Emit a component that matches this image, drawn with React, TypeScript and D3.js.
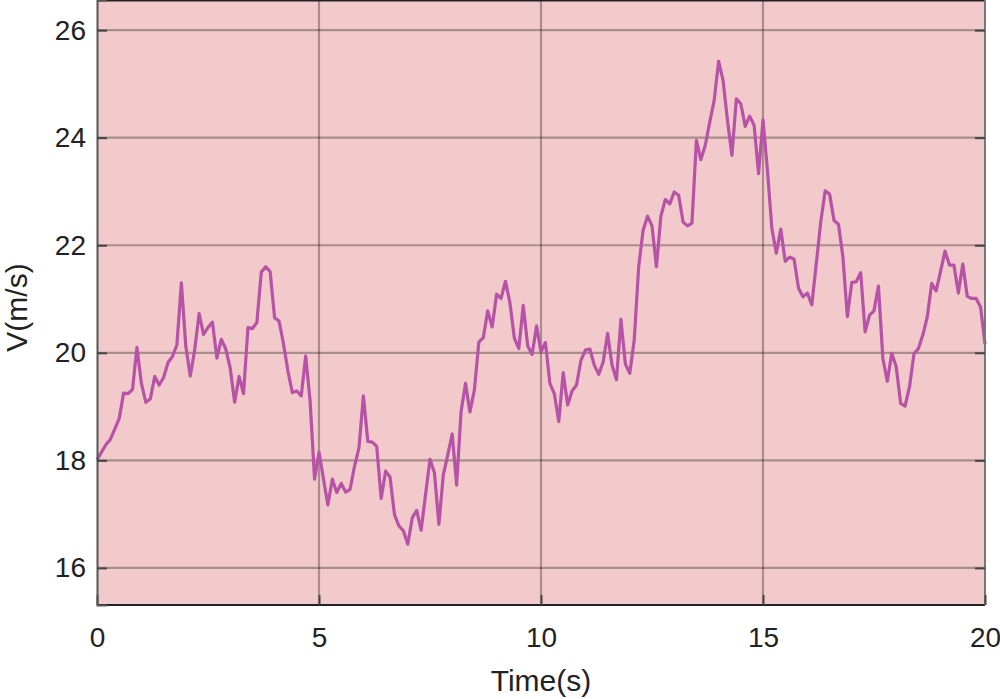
import React, { useEffect, useRef } from "react";
import * as d3 from "d3";

// speed samples every 0.1 s, 0 .. 20 s
const speed = [
  18.01, 18.15, 18.29, 18.39, 18.58, 18.78, 19.25, 19.24, 19.32, 20.1,
  19.43, 19.08, 19.14, 19.56, 19.4, 19.54, 19.82, 19.93, 20.15, 21.3,
  20.12, 19.57, 20.05, 20.73, 20.34, 20.47, 20.57, 19.9, 20.25, 20.07,
  19.72, 19.08, 19.56, 19.24, 20.47, 20.45, 20.56, 21.5, 21.6, 21.51,
  20.65, 20.59, 20.17, 19.66, 19.26, 19.29, 19.2, 19.94, 19.1, 17.65,
  18.15, 17.66, 17.17, 17.65, 17.4, 17.57, 17.41, 17.46, 17.89, 18.23,
  19.2, 18.35, 18.34, 18.26, 17.29, 17.8, 17.69, 16.99, 16.78, 16.69,
  16.44, 16.93, 17.07, 16.7, 17.36, 18.02, 17.77, 16.81, 17.73, 18.1,
  18.49, 17.54, 18.91, 19.43, 18.9, 19.31, 20.2, 20.28, 20.78, 20.48,
  21.09, 21.01, 21.33, 20.93, 20.27, 20.08, 20.88, 20.13, 19.97, 20.5,
  20.02, 20.19, 19.43, 19.24, 18.72, 19.63, 19.03, 19.29, 19.4, 19.86,
  20.05, 20.07, 19.77, 19.6, 19.83, 20.36, 19.77, 19.5, 20.62, 19.79,
  19.62, 20.24, 21.6, 22.28, 22.54, 22.36, 21.6, 22.54, 22.85, 22.77,
  22.99, 22.93, 22.43, 22.36, 22.41, 23.95, 23.59, 23.86, 24.29, 24.69,
  25.42, 25.07, 24.32, 23.67, 24.72, 24.63, 24.21, 24.4, 24.23, 23.33,
  24.33, 23.39, 22.31, 21.85, 22.3, 21.7, 21.78, 21.74, 21.2, 21.04,
  21.11, 20.89, 21.66, 22.43, 23.01, 22.95, 22.46, 22.39, 21.78, 20.67,
  21.31, 21.32, 21.49, 20.39, 20.7, 20.78, 21.24, 19.89, 19.47, 19.99,
  19.74, 19.06, 19.01, 19.37, 19.98, 20.08, 20.33, 20.67, 21.29, 21.15,
  21.52, 21.89, 21.63, 21.63, 21.11, 21.65, 21.05, 21.01, 21.01, 20.85,
  20.16,
];
const timeTicks = [0, 5, 10, 15, 20];
const speedTicks = [16, 18, 20, 22, 24, 26];

export default function App() {
  const svgRef = useRef<SVGSVGElement>(null);

  useEffect(() => {
    const W = 1000;
    const H = 699;
    const m = { top: 0, right: 15, bottom: 94, left: 97 };
    const width = W - m.left - m.right;
    const height = H - m.top - m.bottom;

    const svg = d3.select(svgRef.current);
    svg.selectAll("*").remove();
    svg.attr("width", W).attr("height", H);

    const g = svg.append("g").attr("transform", `translate(${m.left},${m.top})`);

    const x = d3.scaleLinear().domain([0, 20]).range([0, width]);
    const y = d3.scaleLinear().domain([15.31, 26.56]).range([height, 0]);

    g.append("rect")
      .attr("width", width)
      .attr("height", height)
      .attr("fill", "#f2cacb");

    // grid
    g.selectAll(".vgrid")
      .data(timeTicks.slice(1, -1))
      .join("line")
      .attr("x1", (d) => x(d))
      .attr("x2", (d) => x(d))
      .attr("y1", 0)
      .attr("y2", height)
      .attr("stroke", "#000")
      .attr("stroke-opacity", 0.3)
      .attr("stroke-width", 2.2);
    g.selectAll(".hgrid")
      .data(speedTicks)
      .join("line")
      .attr("x1", 0)
      .attr("x2", width)
      .attr("y1", (d) => y(d))
      .attr("y2", (d) => y(d))
      .attr("stroke", "#000")
      .attr("stroke-opacity", 0.3)
      .attr("stroke-width", 2.2);

    const line = d3
      .line<number>()
      .x((_, i) => x(i * 0.1))
      .y((d) => y(d));

    g.append("path")
      .datum(speed)
      .attr("fill", "none")
      .attr("stroke", "#b653a7")
      .attr("stroke-width", 3.2)
      .attr("stroke-linejoin", "round")
      .attr("d", line);

    // frame
    g.append("line").attr("x1", 0).attr("x2", width).attr("y1", 0.5).attr("y2", 0.5)
      .attr("stroke", "#222").attr("stroke-width", 2);
    g.append("line").attr("x1", 0).attr("x2", width).attr("y1", height).attr("y2", height)
      .attr("stroke", "#222").attr("stroke-width", 2);
    g.append("line").attr("x1", width).attr("x2", width).attr("y1", 0).attr("y2", height)
      .attr("stroke", "#777").attr("stroke-width", 2);

    const font = "Liberation Sans, Arial, sans-serif";

    const xAxis = d3.axisBottom(x).tickValues(timeTicks).tickSize(-10).tickPadding(22);
    const xg = g.append("g").attr("transform", `translate(0,${height})`).call(xAxis);
    xg.select(".domain").remove();
    xg.selectAll(".tick line").attr("stroke", "#444").attr("stroke-width", 2);
    xg.selectAll(".tick text")
      .attr("font-family", font)
      .attr("font-size", 28)
      .attr("fill", "#222");

    const yAxis = d3.axisLeft(y).tickValues(speedTicks).tickSize(-10).tickPadding(11);
    const yg = g.append("g").call(yAxis);
    yg.select(".domain").attr("stroke", "#555").attr("stroke-width", 2);
    yg.selectAll(".tick line").attr("stroke", "#444").attr("stroke-width", 2);
    yg.selectAll(".tick text")
      .attr("font-family", font)
      .attr("font-size", 28)
      .attr("fill", "#222");

    const yRight = d3.axisRight(y).tickValues(speedTicks).tickSize(-10).tickFormat(() => "");
    const yr = g.append("g").attr("transform", `translate(${width},0)`).call(yRight);
    yr.select(".domain").remove();
    yr.selectAll(".tick line").attr("stroke", "#444").attr("stroke-width", 2);

    svg.append("text")
      .attr("x", m.left + width / 2)
      .attr("y", 691)
      .attr("text-anchor", "middle")
      .attr("font-family", font)
      .attr("font-size", 30)
      .attr("fill", "#222")
      .text("Time(s)");

    svg.append("text")
      .attr("transform", `translate(27,${m.top + height / 2 + 5}) rotate(-90)`)
      .attr("text-anchor", "middle")
      .attr("font-family", font)
      .attr("font-size", 30)
      .attr("fill", "#222")
      .text("V(m/s)");
  }, []);

  return (
    <div style={{ position: "absolute", left: 0, top: 0 }}>
      <svg ref={svgRef}></svg>
    </div>
  );
}
